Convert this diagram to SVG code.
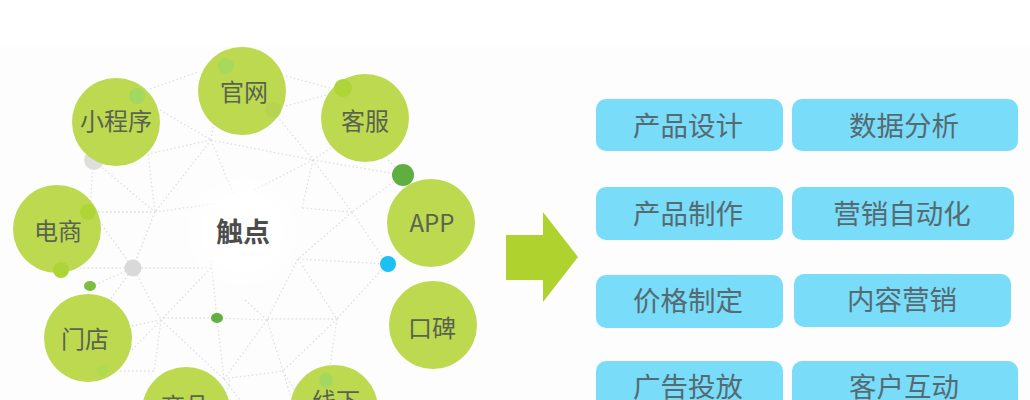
<svg xmlns="http://www.w3.org/2000/svg" width="1030" height="400" viewBox="0 0 1030 400">
<defs>
<radialGradient id="glow"><stop offset="0.55" stop-color="#fff"/><stop offset="1" stop-color="#fff" stop-opacity="0"/></radialGradient>
</defs>
<style>
text{font-family:"Noto Sans CJK SC","Noto Sans",sans-serif;text-anchor:middle;fill:#5a6350}
.c{fill:#bdd950}
.b{fill:#79dcf8}
.t{font-size:24px}
.bt{font-size:27.5px;fill:#566a72}
#net path{fill:none;stroke:#dfe0e4;stroke-width:1.3;stroke-dasharray:1.6 2.4}
</style>
<rect width="1030" height="400" fill="#fff"/>
<rect y="46" width="1030" height="354" fill="#fdfdfd"/>
<g id="net">
<path d="M150 89L198 72M286 76L330 88M160 110L211 140M286 106L330 94M211 140L313 160M211 140L148 154M211 140L155 212M211 140L234 195M211 140L217 100M148 154L155 212M93 160L155 212M93 160L90 212M90 212H155M155 212L220 203M155 212L133 268M272 110L313 160M313 160L335 145M313 160L254 190M313 160L302 208M313 160L352 212M313 160L403 175M403 175L352 212M388 160L403 175M352 212L302 208M352 212L298 259M352 212L387 264M298 259L387 264M298 259L337 319M298 259L267 320M387 264L337 319M337 319H267M337 319L283 371M337 319L330 366M267 320L217 318M267 320L224 379M267 320L283 371M267 320L245 300M217 318H161M217 318L224 379M211 260L217 318M211 268H133M211 268L161 320M133 268L100 222M133 268L70 268M133 268L90 287M133 268L161 320M133 268L110 300M161 320L132 326M161 320L130 352M161 320L154 372M161 320L224 379M120 371H154M224 379L283 371M224 379L240 400M283 371L290 395M283 371L300 400M155 212L135 262M230 380L225 400"/>
</g>
<circle cx="243" cy="232" r="62" fill="url(#glow)"/>
<g id="dot-gray-1"><circle cx="94" cy="160" r="10" fill="#dedede"/></g>
<g id="dot-gray-2"><circle cx="133" cy="268" r="8.5" fill="#d9d9d9"/></g>
<g id="dot-green-1"><circle cx="403" cy="175" r="11" fill="#5eae42"/></g>
<g id="dot-blue"><circle cx="388" cy="264" r="8" fill="#1cc0f2"/></g>
<g id="dot-green-2"><ellipse cx="90" cy="286" rx="6" ry="5" fill="#7cbc3e"/></g>
<g id="dot-green-3"><ellipse cx="217" cy="318" rx="6" ry="5" fill="#62b040"/></g>
<g id="node-guanwang"><circle class="c" cx="242" cy="91" r="44"/><circle cx="226" cy="66" r="8" fill="#a8d85c"/><circle cx="273" cy="110" r="8" fill="#b7d350"/><text class="t" x="244" y="101">官网</text></g>
<g id="node-xiaochengxu"><circle class="c" cx="116" cy="122" r="44"/><circle cx="137" cy="96" r="8" fill="#a3d860"/><text class="t" x="116" y="130">小程序</text></g>
<g id="node-kefu"><circle class="c" cx="365" cy="118" r="44"/><circle cx="343" cy="88" r="9" fill="#aed538"/><text class="t" x="365" y="130">客服</text></g>
<g id="node-app"><circle class="c" cx="431" cy="223" r="44"/><text class="t" x="432" y="232">APP</text></g>
<g id="node-koubei"><circle class="c" cx="433" cy="325" r="44"/><text class="t" x="432" y="337">口碑</text></g>
<g id="node-xianxia"><circle class="c" cx="334" cy="409" r="44"/><circle cx="326" cy="380" r="7" fill="#a3d860"/><text class="t" x="336" y="410">线下</text></g>
<g id="node-shangpin"><circle class="c" cx="186" cy="411" r="44"/><text class="t" x="185" y="415">商品</text></g>
<g id="node-mendian"><circle class="c" cx="88" cy="338" r="44"/><circle cx="102" cy="371" r="6" fill="#aedb52"/><text class="t" x="85" y="348">门店</text></g>
<g id="node-dianshang"><circle class="c" cx="57" cy="229" r="44"/><circle cx="88" cy="212" r="8" fill="#aed538"/><circle cx="61" cy="270" r="8" fill="#aed538"/><text class="t" x="58" y="240">电商</text></g>
<g id="node-center"><text x="243" y="242" font-size="27" font-weight="700" style="fill:#4c4c4c">触点</text></g>
<g id="arrow"><polygon points="506,235 543,235 543,212 578,257 543,302 543,280 506,280" fill="#b0d22e"/></g>
<g id="box1"><rect class="b" x="596" y="99" width="187" height="52" rx="10"/><text class="bt" x="688" y="136">产品设计</text></g>
<g id="box2"><rect class="b" x="792" y="99" width="226" height="52" rx="10"/><text class="bt" x="904" y="136">数据分析</text></g>
<g id="box3"><rect class="b" x="596" y="187" width="187" height="53" rx="10"/><text class="bt" x="688" y="224">产品制作</text></g>
<g id="box4"><rect class="b" x="792" y="187" width="222" height="53" rx="10"/><text class="bt" x="902" y="224">营销自动化</text></g>
<g id="box5"><rect class="b" x="596" y="275" width="187" height="53" rx="10"/><text class="bt" x="688" y="311">价格制定</text></g>
<g id="box6"><rect class="b" x="794" y="274" width="217" height="53" rx="10"/><text class="bt" x="902" y="310">内容营销</text></g>
<g id="box7"><rect class="b" x="596" y="361" width="187" height="53" rx="10"/><text class="bt" x="688" y="397">广告投放</text></g>
<g id="box8"><rect class="b" x="792" y="361" width="226" height="53" rx="10"/><text class="bt" x="904" y="397">客户互动</text></g>
</svg>
